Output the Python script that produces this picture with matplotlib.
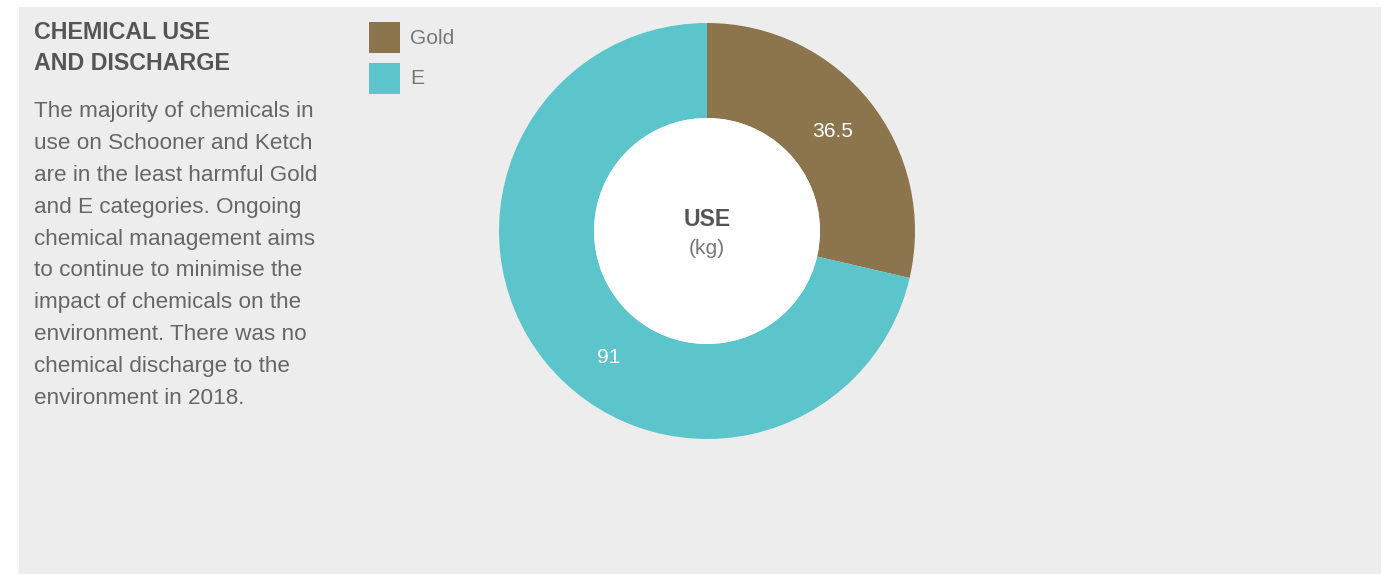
import matplotlib
matplotlib.use("Agg")
import matplotlib.pyplot as plt
from matplotlib.patches import Rectangle, Circle
import numpy as np

plt.rcParams['font.family'] = ['Liberation Sans', 'DejaVu Sans']

# Data
categories = ["Gold", "E"]
values = [36.5, 91]
colors = ["#8C744C", "#5BC5CB"]
value_labels = ["36.5", "91"]

title = "CHEMICAL USE\nAND DISCHARGE"
body = ("The majority of chemicals in\n"
        "use on Schooner and Ketch\n"
        "are in the least harmful Gold\n"
        "and E categories. Ongoing\n"
        "chemical management aims\n"
        "to continue to minimise the\n"
        "impact of chemicals on the\n"
        "environment. There was no\n"
        "chemical discharge to the\n"
        "environment in 2018.")
center_title = "USE"
center_unit = "(kg)"

W, H = 1383, 574
DPI = 100
fig = plt.figure(figsize=(W / DPI, H / DPI), dpi=DPI)
fig.patch.set_facecolor("white")


def fx(px):
    return px / W


def fy(py):
    return 1 - py / H


def pt(px):
    return px * 72 / DPI


# grey panel
fig.patches.append(Rectangle((fx(19), 0), fx(1381) - fx(19), fy(7),
                             transform=fig.transFigure, facecolor="#EDEDED",
                             edgecolor="none", zorder=-5))

# heading and paragraph
fig.text(fx(34), fy(21), title, ha="left", va="top", fontsize=pt(23.3),
         fontweight="bold", color="#555555", linespacing=1.45)
fig.text(fx(34), fy(101), body, ha="left", va="top", fontsize=pt(22.5),
         color="#666666", linespacing=1.68)

# legend
for i, (cat, col) in enumerate(zip(categories, colors)):
    top = 22 + i * 41
    fig.patches.append(Rectangle((fx(369), fy(top + 31)), fx(31), 31 / H,
                                 transform=fig.transFigure, facecolor=col,
                                 edgecolor="none", zorder=1))
    fig.text(fx(410), fy(top + 16), cat, ha="left", va="center",
             fontsize=pt(21), color="#777777")

# donut
cx, cy, R, r_in = 707, 231, 208, 113
ax = fig.add_axes([fx(cx - R), fy(cy + R), 2 * R / W, 2 * R / H])
ax.set_zorder(5)
ax.axis("off")
wedges, _ = ax.pie(values, colors=colors, startangle=90, counterclock=False,
                   radius=1, wedgeprops=dict(width=1 - r_in / R, edgecolor="none"))
ax.set_xlim(-1, 1)
ax.set_ylim(-1, 1)
ax.set_aspect("equal")
ax.add_patch(Circle((0, 0), r_in / R, facecolor="white", edgecolor="none", zorder=3))

# value labels placed along each ring segment
label_frac = [0.5, 0.447]
r_mid = (1 + r_in / R) / 2
total = sum(values)
start = 0.0
for v, lab, f in zip(values, value_labels, label_frac):
    ang = np.deg2rad(90 - 360 * (start + v * f) / total)
    ax.text(r_mid * np.cos(ang), r_mid * np.sin(ang), lab, ha="center",
            va="center", fontsize=pt(21), color="white", zorder=4)
    start += v

ax.text(0, 11 / R, center_title, ha="center", va="center", fontsize=pt(23),
        fontweight="bold", color="#555555", zorder=4)
ax.text(0, -17 / R, center_unit, ha="center", va="center", fontsize=pt(21),
        color="#777777", zorder=4)

fig.savefig("out.png", dpi=DPI, facecolor="white")
